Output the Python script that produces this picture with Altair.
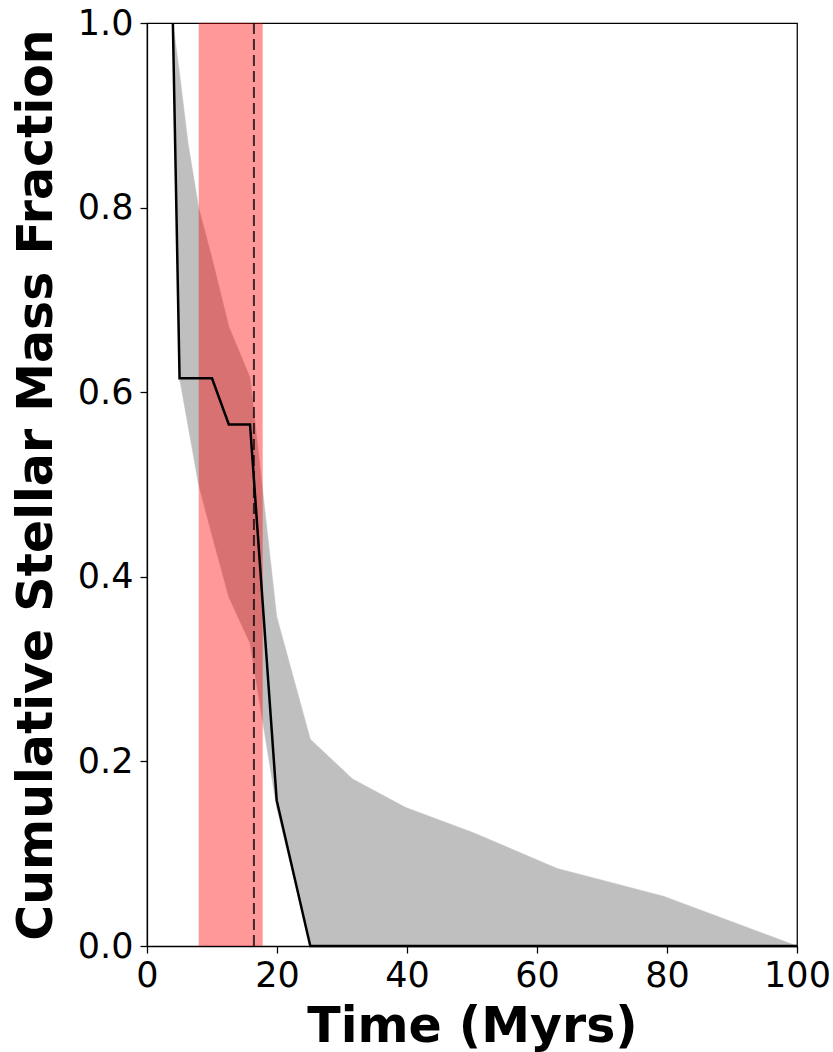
import altair as alt
import pandas as pd

# Time grid (Myrs) and cumulative stellar mass fraction values
time_myr = [3.98, 5.01, 6.31, 7.94, 10.0, 12.59, 15.85, 19.95, 25.12, 31.62, 39.81, 50.12, 63.10, 79.43, 100.0]
best_fit = [1.0, 0.615, 0.615, 0.615, 0.615, 0.565, 0.565, 0.158, 0.0, 0.0, 0.0, 0.0, 0.0, 0.0, 0.0]
upper_bound = [1.0, 0.945, 0.87, 0.80, 0.745, 0.671, 0.616, 0.357, 0.224, 0.181, 0.150, 0.123, 0.084, 0.054, 0.0]
lower_bound = [1.0, 0.615, 0.564, 0.50, 0.445, 0.378, 0.328, 0.15, 0.0, 0.0, 0.0, 0.0, 0.0, 0.0, 0.0]

band_start = [7.95]
band_end = [17.8]
marker_time = [16.45]

x_ticks = [0, 20, 40, 60, 80, 100]
y_ticks = [0.0, 0.2, 0.4, 0.6, 0.8, 1.0]

df = pd.DataFrame({"t": time_myr, "best": best_fit, "hi": upper_bound, "lo": lower_bound})
band_df = pd.DataFrame({"x0": band_start, "x1": band_end})
mark_df = pd.DataFrame({"t": marker_time})

FONT = "DejaVu Sans"

xscale = alt.Scale(domain=[0, 100], nice=False, zero=False)
yscale = alt.Scale(domain=[0, 1], nice=False)

xaxis = alt.Axis(
    values=x_ticks, format="d", title="Time (Myrs)",
    titleFontSize=49, titleFontWeight="bold", titleFont=FONT, titleColor="black",
    titleBaseline="alphabetic", titleY=95,
    labelFontSize=35, labelFont=FONT, labelColor="black", labelPadding=5,
    labelFlush=False, labelOverlap=False,
    tickSize=7, tickColor="black", tickWidth=1.25,
    domainColor="black", domainWidth=1.25, grid=False,
)
yaxis = alt.Axis(
    values=y_ticks, format=".1f", title="Cumulative Stellar Mass Fraction",
    titleFontSize=49, titleFontWeight="bold", titleFont=FONT, titleColor="black",
    titleAngle=-90, titleBaseline="alphabetic", titleAlign="center",
    titleX=-96, titleY=461.5,
    labelFontSize=35, labelFont=FONT, labelColor="black", labelPadding=7,
    labelFlush=False, labelOverlap=False,
    tickSize=7, tickColor="black", tickWidth=1.25,
    domainColor="black", domainWidth=1.25, grid=False,
)

area = alt.Chart(df).mark_area(
    color="#808080", opacity=0.5, stroke="#808080", strokeWidth=1, strokeOpacity=0.5
).encode(
    x=alt.X("t:Q", scale=xscale, axis=xaxis),
    y=alt.Y("hi:Q", scale=yscale, axis=yaxis),
    y2="lo:Q",
)

band = alt.Chart(band_df).mark_rect(color="#ff0000", opacity=0.4).encode(
    x=alt.X("x0:Q", scale=xscale),
    x2="x1:Q",
    y=alt.value(0),
    y2=alt.value(923),
)

dashed = alt.Chart(mark_df).mark_rule(
    color="black", strokeDash=[11, 5], strokeWidth=2, opacity=0.75
).encode(x=alt.X("t:Q", scale=xscale))

line = alt.Chart(df).mark_line(color="black", strokeWidth=2.5).encode(
    x=alt.X("t:Q", scale=xscale),
    y=alt.Y("best:Q", scale=yscale),
)

chart = alt.layer(area, band, dashed, line).properties(
    width=650, height=923,
    autosize=alt.AutoSizeParams(type="none"),
    padding={"left": 147, "top": 23, "right": 36, "bottom": 106},
).configure(
    background="white",
    view=alt.ViewConfig(stroke="black", strokeWidth=1.25),
)

chart.save("out.html", embed_options={"renderer": "svg", "actions": False})
